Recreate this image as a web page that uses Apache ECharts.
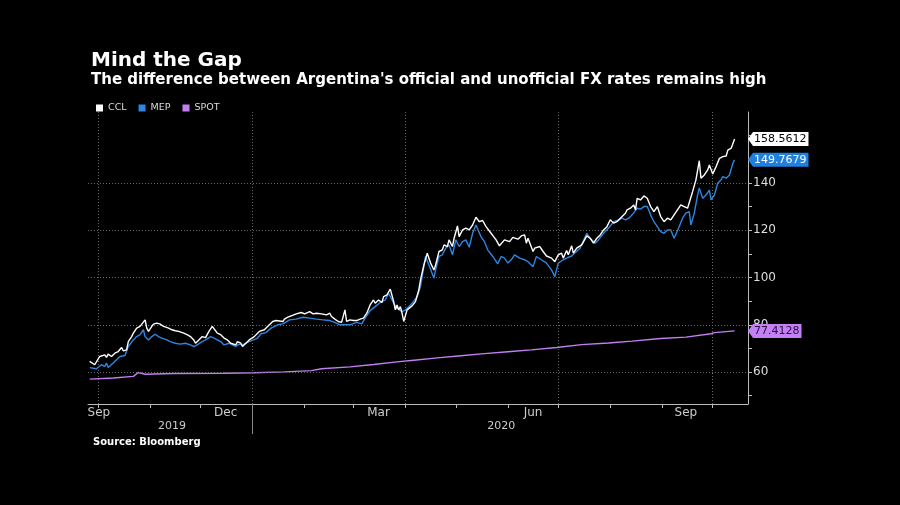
<!DOCTYPE html>
<html><head><meta charset="utf-8">
<script src="https://cdn.jsdelivr.net/npm/echarts@6/dist/echarts.min.js"></script>
<style>html,body{margin:0;padding:0;background:#000;}#c{width:900px;height:505px;}</style>
</head><body><div id="c"></div>
<script>
const cclDates = ['2019-09-26','2019-09-29','2019-10-02','2019-10-03','2019-10-05','2019-10-06','2019-10-07','2019-10-09','2019-10-11','2019-10-13','2019-10-15','2019-10-16','2019-10-18','2019-10-19','2019-10-21','2019-10-22','2019-10-24','2019-10-26','2019-10-27','2019-10-29','2019-10-30','2019-10-31','2019-11-02','2019-11-03','2019-11-05','2019-11-07','2019-11-09','2019-11-10','2019-11-12','2019-11-14','2019-11-16','2019-11-18','2019-11-21','2019-11-23','2019-11-25','2019-11-27','2019-11-28','2019-11-30','2019-12-02','2019-12-04','2019-12-06','2019-12-08','2019-12-09','2019-12-11','2019-12-13','2019-12-15','2019-12-17','2019-12-19','2019-12-20','2019-12-22','2019-12-23','2019-12-25','2019-12-26','2019-12-28','2019-12-30','2020-01-02','2020-01-03','2020-01-05','2020-01-08','2020-01-11','2020-01-13','2020-01-15','2020-01-16','2020-01-19','2020-01-20','2020-01-22','2020-01-24','2020-01-27','2020-01-30','2020-02-01','2020-02-04','2020-02-06','2020-02-08','2020-02-11','2020-02-14','2020-02-16','2020-02-17','2020-02-19','2020-02-21','2020-02-23','2020-02-25','2020-02-26','2020-02-28','2020-03-01','2020-03-03','2020-03-05','2020-03-07','2020-03-09','2020-03-11','2020-03-13','2020-03-14','2020-03-16','2020-03-18','2020-03-19','2020-03-21','2020-03-22','2020-03-23','2020-03-25','2020-03-26','2020-03-27','2020-03-28','2020-03-29','2020-03-30','2020-03-31','2020-04-02','2020-04-05','2020-04-07','2020-04-09','2020-04-10','2020-04-12','2020-04-14','2020-04-16','2020-04-18','2020-04-19','2020-04-21','2020-04-23','2020-04-24','2020-04-26','2020-04-27','2020-04-29','2020-04-30','2020-05-02','2020-05-03','2020-05-05','2020-05-07','2020-05-09','2020-05-11','2020-05-13','2020-05-15','2020-05-17','2020-05-19','2020-05-22','2020-05-25','2020-05-27','2020-05-30','2020-06-02','2020-06-04','2020-06-07','2020-06-09','2020-06-11','2020-06-12','2020-06-13','2020-06-16','2020-06-17','2020-06-20','2020-06-22','2020-06-24','2020-06-27','2020-06-29','2020-07-01','2020-07-03','2020-07-04','2020-07-06','2020-07-07','2020-07-09','2020-07-10','2020-07-12','2020-07-15','2020-07-18','2020-07-20','2020-07-22','2020-07-24','2020-07-26','2020-07-28','2020-07-30','2020-08-01','2020-08-03','2020-08-05','2020-08-07','2020-08-10','2020-08-11','2020-08-13','2020-08-15','2020-08-16','2020-08-17','2020-08-19','2020-08-21','2020-08-23','2020-08-25','2020-08-27','2020-08-29','2020-08-31','2020-09-02','2020-09-04','2020-09-06','2020-09-08','2020-09-10','2020-09-12','2020-09-14','2020-09-16','2020-09-17','2020-09-19','2020-09-21','2020-09-23','2020-09-24','2020-09-26','2020-09-28','2020-09-29','2020-10-01','2020-10-03','2020-10-05','2020-10-07','2020-10-09','2020-10-10','2020-10-12','2020-10-14'];
const cclValues = [64.5,63.1,66.6,65.9,67.3,66.2,67.6,66.6,68.0,68.7,70.4,69.0,69.4,72.9,75.0,76.5,78.6,79.3,80.0,82.1,78.6,77.2,79.3,80.3,80.7,80.3,79.3,79.7,78.6,77.9,77.5,77.2,76.5,75.8,75.0,73.6,72.2,73.6,75.0,74.6,77.2,79.3,78.6,76.5,75.8,74.4,73.6,72.2,72.9,71.5,72.9,72.2,70.8,72.2,73.6,75.0,75.3,77.2,77.9,80.0,81.4,81.8,82.4,81.4,82.4,83.2,83.8,84.6,85.2,84.6,85.6,84.6,84.9,84.6,84.2,84.9,83.5,82.4,81.4,81.0,86.3,81.4,82.1,81.8,81.8,82.4,82.8,84.9,88.4,90.5,89.1,90.5,89.4,91.9,92.7,91.9,95.1,89.8,86.3,88.4,86.3,87.7,84.9,81.4,86.3,88.0,89.8,94.8,99.0,105.3,110.3,106.1,103.2,105.3,111.0,111.7,113.8,113.1,115.9,113.1,116.6,121.8,117.3,120.1,120.9,120.1,122.2,125.5,123.6,124.1,121.5,118.7,115.9,113.4,115.9,115.2,117.0,116.2,117.6,118.0,114.5,116.6,111.0,112.4,113.1,111.0,109.1,108.2,106.7,109.6,110.3,108.2,111.4,109.6,113.4,110.3,112.4,113.8,117.6,116.6,114.5,116.6,118.0,120.1,121.5,124.4,123.0,123.6,125.1,127.2,128.6,129.3,130.7,128.6,133.5,132.8,134.5,133.5,130.0,127.9,130.0,125.8,123.6,125.1,124.4,126.5,128.6,130.7,130.0,129.3,128.6,136.3,141.3,149.4,142.0,143.4,145.5,147.6,143.8,146.9,150.4,151.1,151.4,153.9,154.7,158.5612];

const mepDates = ['2019-09-26','2019-09-30','2019-10-03','2019-10-05','2019-10-06','2019-10-07','2019-10-10','2019-10-12','2019-10-14','2019-10-17','2019-10-19','2019-10-22','2019-10-24','2019-10-26','2019-10-28','2019-10-29','2019-10-31','2019-11-02','2019-11-04','2019-11-06','2019-11-08','2019-11-11','2019-11-13','2019-11-16','2019-11-19','2019-11-20','2019-11-22','2019-11-25','2019-11-27','2019-11-29','2019-12-02','2019-12-04','2019-12-07','2019-12-09','2019-12-11','2019-12-13','2019-12-15','2019-12-16','2019-12-18','2019-12-20','2019-12-22','2019-12-24','2019-12-26','2019-12-28','2019-12-30','2019-12-31','2020-01-04','2020-01-06','2020-01-09','2020-01-12','2020-01-16','2020-01-19','2020-01-23','2020-01-27','2020-01-31','2020-02-04','2020-02-08','2020-02-12','2020-02-16','2020-02-19','2020-02-22','2020-02-28','2020-03-03','2020-03-06','2020-03-08','2020-03-11','2020-03-14','2020-03-17','2020-03-20','2020-03-22','2020-03-23','2020-03-25','2020-03-27','2020-03-30','2020-04-01','2020-04-05','2020-04-08','2020-04-10','2020-04-13','2020-04-15','2020-04-18','2020-04-19','2020-04-21','2020-04-23','2020-04-25','2020-04-27','2020-04-29','2020-05-01','2020-05-03','2020-05-05','2020-05-07','2020-05-09','2020-05-11','2020-05-13','2020-05-16','2020-05-18','2020-05-20','2020-05-23','2020-05-26','2020-05-28','2020-05-30','2020-06-01','2020-06-03','2020-06-05','2020-06-08','2020-06-11','2020-06-13','2020-06-16','2020-06-18','2020-06-21','2020-06-24','2020-06-27','2020-06-29','2020-07-01','2020-07-04','2020-07-06','2020-07-09','2020-07-11','2020-07-14','2020-07-18','2020-07-20','2020-07-23','2020-07-25','2020-07-28','2020-07-31','2020-08-03','2020-08-06','2020-08-08','2020-08-10','2020-08-12','2020-08-14','2020-08-17','2020-08-19','2020-08-21','2020-08-23','2020-08-25','2020-08-27','2020-08-29','2020-08-31','2020-09-02','2020-09-04','2020-09-06','2020-09-08','2020-09-11','2020-09-13','2020-09-15','2020-09-17','2020-09-18','2020-09-20','2020-09-22','2020-09-23','2020-09-25','2020-09-27','2020-09-29','2020-09-30','2020-10-02','2020-10-04','2020-10-06','2020-10-07','2020-10-09','2020-10-11','2020-10-13','2020-10-14'];
const mepValues = [61.9,61.4,63.1,62.4,63.8,61.9,63.8,65.2,66.6,67.0,70.8,73.6,75.0,75.8,77.9,75.0,73.6,75.0,76.0,75.0,74.4,73.6,72.9,72.2,71.8,71.5,72.2,71.5,70.8,71.5,72.9,73.6,75.0,74.4,73.6,72.9,71.5,70.8,72.2,71.5,70.8,71.8,71.5,72.2,72.9,72.5,74.4,76.2,76.7,78.6,80.0,80.4,82.1,82.4,83.2,82.8,82.4,82.1,81.8,81.0,80.0,80.0,81.0,80.4,82.8,86.0,87.7,89.4,90.5,93.4,92.7,89.1,87.0,85.6,86.3,89.1,91.9,96.2,108.9,105.3,99.7,103.2,108.9,109.6,112.4,113.8,109.6,115.9,113.1,115.2,115.9,112.8,118.7,122.2,117.3,115.2,111.7,108.9,105.8,108.9,108.2,106.1,107.5,109.6,108.2,107.5,106.7,104.6,108.9,107.5,106.1,103.2,100.4,106.1,107.5,108.2,109.1,110.5,112.4,118.7,116.6,114.5,115.9,118.7,120.9,123.6,124.4,125.1,124.4,125.1,126.5,129.3,128.9,130.0,130.0,126.5,123.6,121.5,119.4,118.7,120.1,120.1,116.6,121.5,125.1,127.2,127.9,122.2,127.2,134.9,137.8,133.5,134.9,137.0,132.8,134.9,139.9,141.3,142.7,142.0,143.4,148.3,149.7679];

const spotDates = ['2019-09-26','2019-10-10','2019-10-22','2019-10-25','2019-10-29','2019-11-15','2019-12-15','2020-01-02','2020-01-20','2020-02-05','2020-02-11','2020-02-28','2020-03-13','2020-03-27','2020-04-06','2020-04-20','2020-05-04','2020-05-18','2020-06-01','2020-06-15','2020-06-30','2020-07-15','2020-07-31','2020-08-14','2020-08-31','2020-09-15','2020-09-30','2020-10-02','2020-10-14'];
const spotValues = [57.0,57.5,58.2,59.8,59.1,59.4,59.5,59.7,60.1,60.6,61.4,62.2,63.2,64.3,65.0,66.0,66.9,67.8,68.6,69.4,70.4,71.6,72.3,73.1,74.2,74.8,76.2,76.7,77.4128];

const seriesNames = ['CCL','MEP','SPOT'];
const yLabelValues = [60,80,100,120,140];
const yTickValues = [50,60,70,80,90,100,110,120,130,140,150,160];
const monthTickDates = ['2019-10-01','2019-11-01','2019-12-01','2020-01-01','2020-02-01','2020-03-01','2020-04-01','2020-05-01','2020-06-01','2020-07-01','2020-08-01','2020-09-01','2020-10-01'];
const monthLabelDates = ['2019-10-01 12:00','2019-12-16','2020-03-16','2020-06-16','2020-09-15'];
const monthNames = ['Jan','Feb','Mar','Apr','May','Jun','Jul','Aug','Sep','Oct','Nov','Dec'];
const monthLabelTexts = ['Sep','Dec','Mar','Jun','Sep'];
const yearSplitDates = ['2020-01-01'];
const yearLabelDates = ['2019-11-14','2020-05-28'];
const gridXDates = ['2019-10-01','2020-01-01','2020-04-01','2020-07-01','2020-10-01'];
const gridYValues = [60,80,100,120,140];
const xMin = '2019-09-25', xMax = '2020-10-22';
const yMin = 46.5, yMax = 170;

const P = d => +echarts.number.parseDate(d);
const ts = a => a.map(P);
const FONT = 'DejaVu Sans';
const colors = {CCL:'#ffffff', MEP:'#2c86e2', SPOT:'#c27ef2'};
const tagBg = {CCL:'#ffffff', MEP:'#1f80e0', SPOT:'#c47ff4'};
const tagFg = {CCL:'#000000', MEP:'#ffffff', SPOT:'#2a1040'};
const labelTs = ts(monthLabelDates);

function tag(name, lastVal) {
  return {
    silent: true,
    symbol: 'path://M0,5L5,0L5,10Z',
    symbolSize: [5, 14],
    symbolOffset: [2.5, 0],
    itemStyle: {color: tagBg[name]},
    label: {show: true, position: 'right', distance: 0, formatter: lastVal.toFixed(4),
      backgroundColor: tagBg[name], color: tagFg[name], fontFamily: FONT, fontSize: 11,
      lineHeight: 14, padding: [0, 2, 0, 1]},
    data: [{coord: [P(xMax), lastVal]}]
  };
}
const dotted = {color: '#6a6a6a', width: 1, type: [1, 2]};
const pairs = (ds, vs) => ds.map((d, i) => [P(d), vs[i]]);

const chart = echarts.init(document.getElementById('c'), null, {renderer: 'canvas'});
chart.setOption({
  backgroundColor: '#000',
  animation: false,
  title: [
    {text: 'Mind the Gap', left: 86, top: 46, textStyle: {color: '#fff', fontFamily: FONT, fontWeight: 'bold', fontSize: 20}},
    {text: "The difference between Argentina's official and unofficial FX rates remains high", left: 86, top: 68, textStyle: {color: '#fff', fontFamily: FONT, fontWeight: 'bold', fontSize: 15}},
    {text: 'Source: Bloomberg', left: 88, top: 432, textStyle: {color: '#fff', fontFamily: FONT, fontWeight: 'bold', fontSize: 10}}
  ],
  legend: {
    data: seriesNames, left: 91, top: 98, icon: 'rect', itemWidth: 7, itemHeight: 7, itemGap: 12,
    textStyle: {color: '#ddd', fontFamily: FONT, fontSize: 9.5}
  },
  grid: {left: 88, right: 152, top: 112, bottom: 101, containLabel: false},
  xAxis: [
    {type: 'value', min: P(xMin), max: P(xMax),
      axisLine: {show: true, lineStyle: {color: '#bbb', width: 1}},
      axisTick: {show: true, customValues: ts(monthTickDates), length: 4, lineStyle: {color: '#bbb'}},
      axisLabel: {show: true, customValues: labelTs, margin: 3, color: '#ccc', fontFamily: FONT, fontSize: 12,
        formatter: v => { const i = labelTs.indexOf(v); return i >= 0 ? monthLabelTexts[i] : monthNames[new Date(v).getMonth()]; }},
      splitLine: {show: false}},
    {type: 'value', min: P(xMin), max: P(xMax), position: 'bottom',
      axisLine: {show: false},
      axisTick: {show: true, customValues: ts(yearSplitDates), length: 30, lineStyle: {color: '#888'}},
      axisLabel: {show: true, customValues: ts(yearLabelDates), margin: 17, color: '#ccc', fontFamily: FONT, fontSize: 11,
        formatter: v => String(new Date(v).getFullYear())},
      splitLine: {show: false}}
  ],
  yAxis: {type: 'value', position: 'right', min: yMin, max: yMax,
    axisLine: {show: true, lineStyle: {color: '#bbb', width: 1}},
    axisTick: {show: true, customValues: yTickValues, length: 4, lineStyle: {color: '#bbb'}},
    axisLabel: {show: true, customValues: yLabelValues, margin: 5, color: '#ddd', fontFamily: FONT, fontSize: 12},
    splitLine: {show: false}},
  series: [
    {name: 'CCL', type: 'line', z: 5, showSymbol: false, symbol: 'none',
      data: pairs(cclDates, cclValues),
      lineStyle: {color: colors.CCL, width: 1.4}, itemStyle: {color: colors.CCL},
      markPoint: tag('CCL', cclValues[cclValues.length - 1])},
    {name: 'MEP', type: 'line', z: 4, showSymbol: false, symbol: 'none',
      data: pairs(mepDates, mepValues),
      lineStyle: {color: colors.MEP, width: 1.4}, itemStyle: {color: colors.MEP},
      markPoint: tag('MEP', mepValues[mepValues.length - 1])},
    {name: 'SPOT', type: 'line', z: 3, showSymbol: false, symbol: 'none',
      data: pairs(spotDates, spotValues),
      lineStyle: {color: colors.SPOT, width: 1.4}, itemStyle: {color: colors.SPOT},
      markPoint: tag('SPOT', spotValues[spotValues.length - 1]),
      markLine: {silent: true, symbol: 'none', label: {show: false}, lineStyle: dotted, animation: false,
        data: gridXDates.map(d => ({xAxis: P(d)})).concat(gridYValues.map(v => ({yAxis: v})))}}
  ]
});
</script></body></html>
